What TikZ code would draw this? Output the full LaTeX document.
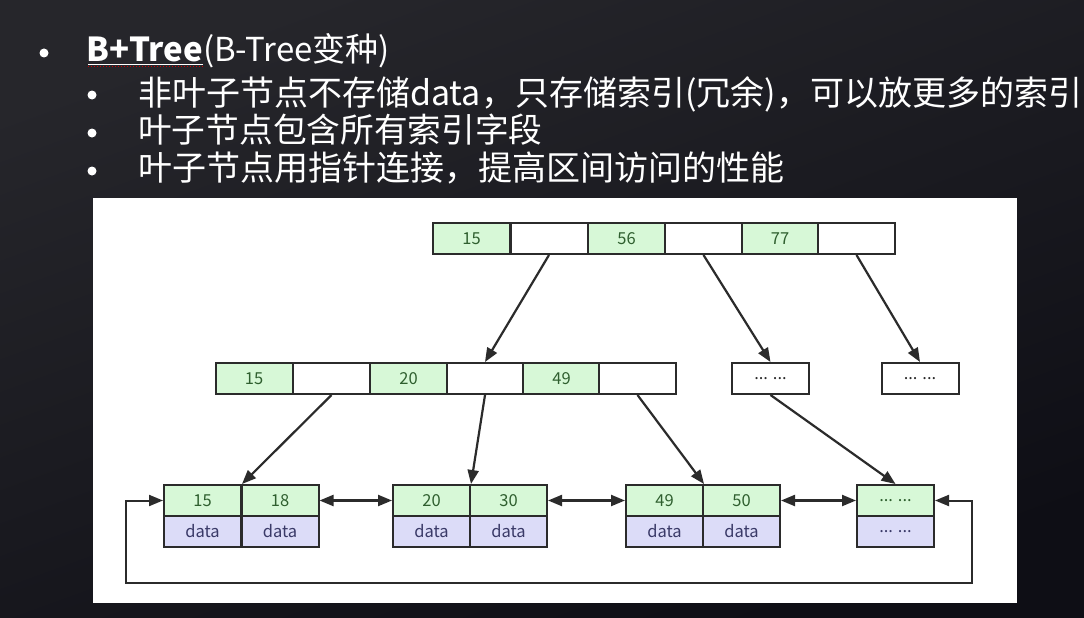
\documentclass[tikz,border=0pt]{standalone}
\usepackage{fontspec}
\setmainfont{Noto Sans CJK SC}
\newfontfamily\cjk{Noto Sans CJK SC}
\usetikzlibrary{arrows.meta}
\definecolor{bgtop}{HTML}{26262B}
\definecolor{bgbot}{HTML}{0E0E15}
\definecolor{keyfill}{HTML}{D7F8D7}
\definecolor{datafill}{HTML}{DCDCF8}
\definecolor{keytext}{HTML}{2F5F2F}
\definecolor{datatext}{HTML}{3A3A68}
\definecolor{edge}{HTML}{2B2B2B}
\tikzset{
  cellbox/.style={draw=edge, line width=2pt, minimum width=77pt, minimum height=31pt,
    inner sep=0pt, font=\cjk\fontsize{16.5}{16.5}\selectfont},
  keycell/.style={cellbox, fill=keyfill, text=keytext},
  datacell/.style={cellbox, fill=datafill, text=datatext},
  whitecell/.style={cellbox, fill=white, text=edge},
  ptr/.style={draw=edge, line width=2.2pt, -{Triangle[length=14pt,width=11pt]}},
  dptr/.style={draw=edge, line width=2.2pt, {Triangle[length=14pt,width=11pt]}-{Triangle[length=14pt,width=11pt]}},
  slide/.style={text=white, anchor=base west, inner sep=0pt},
  bul/.style={circle, fill=white, inner sep=0pt, minimum size=9pt}
}
\begin{document}
\begin{tikzpicture}[x=1pt,y=-1pt]
\useasboundingbox (0,0) rectangle (1084,618);
\shade[top color=bgtop, bottom color=bgbot, shading angle=20] (0,0) rectangle (1084,618);
% white panel
\fill[white] (93,198) rectangle (1017,603);

% slide text
\node[bul] (b0) at (44,53) {};
\node[slide, font=\cjk\fontsize{33}{33}\selectfont] (t0) at (86,62) {\textbf{B+Tree}(B-Tree变种)};
\draw[white, line width=1.2pt] (88,64.5) -- (203,64.5);
\draw[red!80!black, line width=1pt, dotted] (88,66.5) -- (203,66.5);
\node[bul] (b1) at (92,95) {};
\node[slide, font=\cjk\fontsize{34}{34}\selectfont] (l1) at (138,105) {非叶子节点不存储data，只存储索引(冗余)，可以放更多的索引};
\node[bul] (b2) at (92,133) {};
\node[slide, font=\cjk\fontsize{33.7}{34}\selectfont] (l2) at (138,142) {叶子节点包含所有索引字段};
\node[bul] (b3) at (92,171) {};
\node[slide, font=\cjk\fontsize{34}{34}\selectfont] (l3) at (138,180) {叶子节点用指针连接，提高区间访问的性能};

% root
\node[keycell]   (t1) at (471.5,238.5) {15};
\node[whitecell] (t2) at (549,238.5) {};
\node[keycell]   (t3) at (626.5,238.5) {56};
\node[whitecell] (t4) at (703.5,238.5) {};
\node[keycell]   (t5) at (780,238.5) {77};
\node[whitecell] (t6) at (856.5,238.5) {};

% middle level
\node[keycell]   (m1) at (254,378.5) {15};
\node[whitecell] (m2) at (331.5,378.5) {};
\node[keycell]   (m3) at (408.5,378.5) {20};
\node[whitecell] (m4) at (485,378.5) {};
\node[keycell]   (m5) at (561.5,378.5) {49};
\node[whitecell] (m6) at (637.5,378.5) {};
\node[whitecell] (mb1) at (770.5,378.5) {... ...};
\node[whitecell] (mb2) at (920,378.5) {... ...};

% leaves
\node[keycell]  (L1a) at (202.5,500.5) {15};
\node[keycell]  (L1b) at (280,500.5) {18};
\node[datacell] (L1c) at (202.5,531.5) {data};
\node[datacell] (L1d) at (280,531.5) {data};

\node[keycell]  (L2a) at (431.5,500.5) {20};
\node[keycell]  (L2b) at (508.5,500.5) {30};
\node[datacell] (L2c) at (431.5,531.5) {data};
\node[datacell] (L2d) at (508.5,531.5) {data};

\node[keycell]  (L3a) at (664.5,500.5) {49};
\node[keycell]  (L3b) at (741.5,500.5) {50};
\node[datacell] (L3c) at (664.5,531.5) {data};
\node[datacell] (L3d) at (741.5,531.5) {data};

\node[keycell]  (L4a) at (895.5,500.5) {... ...};
\node[datacell] (L4c) at (895.5,531.5) {... ...};

% tree pointers
\draw[ptr] (t2.south) -- (m4.north);
\draw[ptr] (t4.south) -- (mb1.north);
\draw[ptr] (t6.south) -- (mb2.north);
\draw[ptr] (m2.south) -- (L1a.north east);
\draw[ptr] (m4.south) -- (L2a.north east);
\draw[ptr] (m6.south) -- (L3a.north east);
\draw[ptr] (mb1.south) -- (L4a.north);

% leaf links
\draw[dptr] (L1b.east) -- (L2a.west);
\draw[dptr] (L2b.east) -- (L3a.west);
\draw[dptr] (L3b.east) -- (L4a.west);

% ring
\coordinate (cl) at (126,583);
\coordinate (cr) at (972,583);
\draw[dptr, line width=2pt] (L1a.west) -| (cl) -- (cr) |- (L4a.east);
\end{tikzpicture}
\end{document}
